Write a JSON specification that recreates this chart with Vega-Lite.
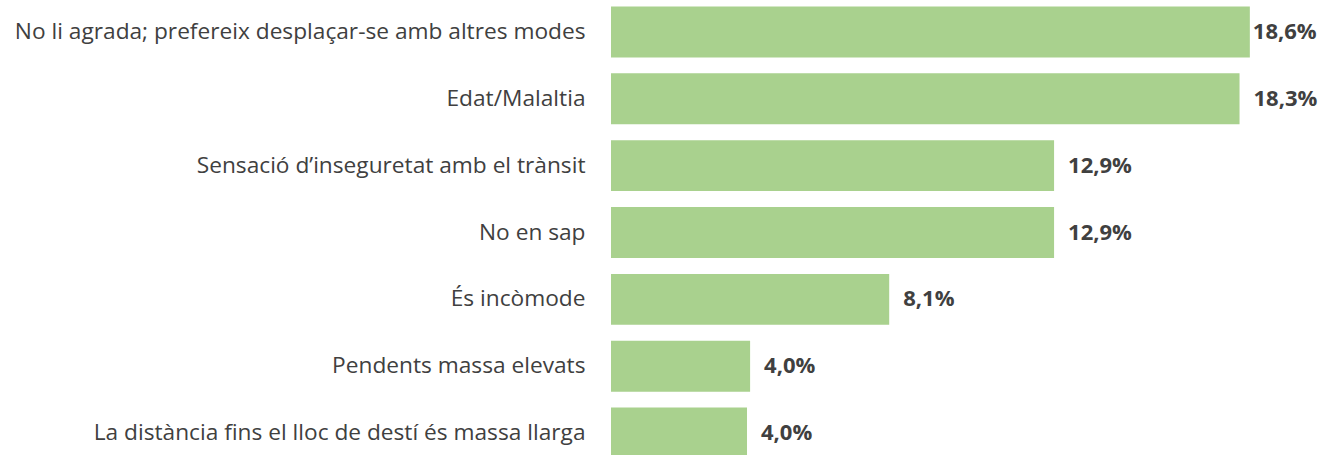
{
  "$schema": "https://vega.github.io/schema/vega-lite/v6.json",
  "autosize": {"type": "none"},
  "width": 712,
  "height": 465,
  "padding": {"left": 611, "top": 0, "right": 0, "bottom": 0},
  "background": "white",
  "config": {"view": {"stroke": null}},
  "data": {
    "values": [
      {"motiu": "No li agrada; prefereix desplaçar-se amb altres modes", "pct": 18.6, "etiqueta": "18,6%"},
      {"motiu": "Edat/Malaltia", "pct": 18.3, "etiqueta": "18,3%"},
      {"motiu": "Sensació d’inseguretat amb el trànsit", "pct": 12.9, "etiqueta": "12,9%"},
      {"motiu": "No en sap", "pct": 12.9, "etiqueta": "12,9%"},
      {"motiu": "És incòmode", "pct": 8.1, "etiqueta": "8,1%"},
      {"motiu": "Pendents massa elevats", "pct": 4.05, "etiqueta": "4,0%"},
      {"motiu": "La distància fins el lloc de destí és massa llarga", "pct": 3.96, "etiqueta": "4,0%"}
    ]
  },
  "encoding": {
    "y": {
      "field": "motiu",
      "type": "nominal",
      "sort": null,
      "scale": {"paddingInner": 0.238, "paddingOuter": 0.097},
      "axis": {
        "title": null,
        "domain": false,
        "ticks": false,
        "labelPadding": 26,
        "labelFont": "Open Sans",
        "labelFontSize": 22.7,
        "labelColor": "#404040",
        "labelLimit": 700
      }
    },
    "x": {
      "field": "pct",
      "type": "quantitative",
      "scale": {"domain": [0, 20.73], "nice": false, "zero": true},
      "axis": null
    }
  },
  "layer": [
    {"mark": {"type": "bar", "color": "#a9d18e"}},
    {
      "transform": [{"filter": "datum.pct < 18.5"}],
      "mark": {"type": "text", "align": "left", "baseline": "middle", "dx": 14, "font": "Open Sans", "fontSize": 22, "fontWeight": "bold", "color": "#404040"},
      "encoding": {"text": {"field": "etiqueta"}}
    },
    {
      "transform": [{"filter": "datum.pct >= 18.5"}],
      "mark": {"type": "text", "align": "left", "baseline": "middle", "dx": 3, "font": "Open Sans", "fontSize": 22, "fontWeight": "bold", "color": "#404040"},
      "encoding": {"text": {"field": "etiqueta"}}
    }
  ]
}
